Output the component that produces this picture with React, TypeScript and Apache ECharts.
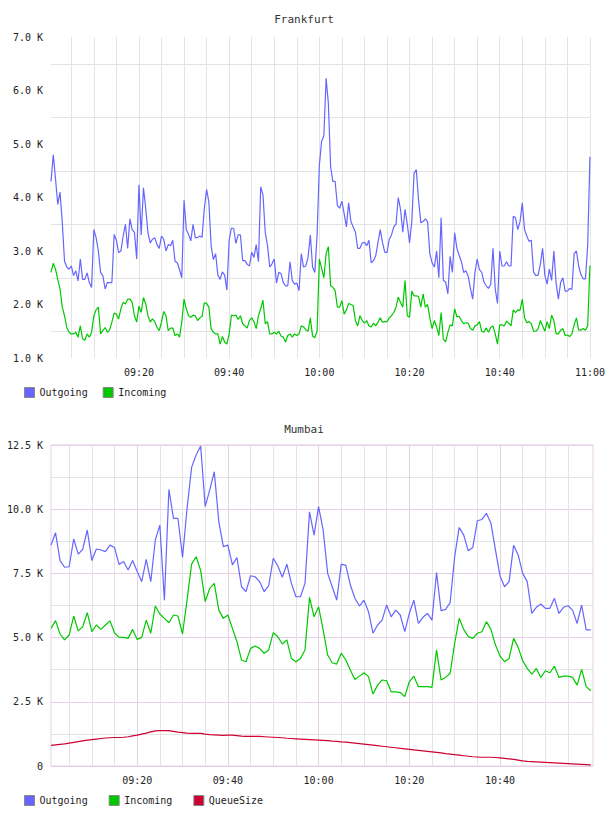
import React, { useEffect, useRef } from 'react';
import * as echarts from 'echarts';

const FONT = 'DejaVu Sans Mono';
const TEXT = '#222';
const GRAY = '#e4e4e4';
const PINK = '#e6cfe6';
const C_OUT = '#6666ff';
const C_IN = '#00c800';
const C_Q = '#cc0033';

// Frankfurt: samples every 30 s starting at 09:00:30 (minutes after 09:00)
const FRA_START_MIN = 0.5;
const FRA_STEP_MIN = 0.5;
// values in thousands
const FRA_OUT = [
  4.30, 4.80, 4.35, 3.87, 4.10, 3.53, 2.81, 2.70, 2.66, 2.72,
  2.54, 2.63, 2.44, 2.85, 2.47, 2.47, 2.59, 2.41, 2.32, 3.40,
  3.25, 3.00, 2.60, 2.54, 2.29, 2.41, 2.41, 2.41, 3.31, 3.20,
  2.97, 3.00, 3.28, 3.50, 3.05, 3.60, 3.40, 3.35, 2.85, 4.24,
  3.30, 4.18, 3.80, 3.34, 3.15, 3.22, 3.25, 3.12, 3.05, 3.28,
  3.22, 3.00, 3.12, 3.10, 3.20, 2.81, 2.78, 2.65, 2.50, 3.95,
  3.40, 3.31, 3.19, 3.50, 3.25, 3.25, 3.28, 3.26, 3.80, 4.15,
  3.92, 3.10, 2.84, 2.95, 2.55, 2.47, 2.61, 2.55, 2.27, 3.20,
  3.43, 3.42, 3.14, 3.30, 3.30, 2.82, 2.82, 2.75, 2.72, 2.98,
  2.88, 3.12, 2.80, 4.20, 4.05, 3.35, 3.10, 2.70, 2.76, 2.85,
  2.40, 2.60, 2.58, 2.41, 2.35, 2.35, 2.80, 2.45, 2.38, 2.40,
  2.26, 2.95, 2.70, 2.72, 2.88, 3.30, 2.70, 2.60, 3.30, 4.60,
  5.05, 5.15, 6.23, 5.76, 4.57, 4.30, 4.30, 3.85, 3.80, 3.93,
  3.70, 3.45, 3.90, 3.55, 3.45, 3.35, 3.05, 3.05, 3.15, 3.16,
  3.10, 3.20, 2.78, 2.82, 2.91, 3.16, 3.40, 3.16, 2.98, 2.97,
  3.22, 3.30, 3.45, 3.50, 4.00, 3.78, 3.35, 3.78, 3.50, 3.15,
  3.55, 4.45, 4.52, 3.95, 3.53, 3.55, 3.60, 3.55, 2.95, 2.78,
  2.70, 3.00, 2.50, 3.62, 2.45, 2.42, 2.20, 2.90, 2.60, 3.34,
  3.05, 2.92, 2.80, 2.60, 2.63, 2.53, 2.30, 2.10, 2.60, 2.85,
  2.65, 2.60, 2.42, 2.35, 2.30, 2.38, 3.05, 2.29, 2.02, 3.00,
  2.72, 2.72, 2.80, 2.72, 2.72, 3.65, 3.62, 3.40, 3.55, 3.90,
  3.40, 3.28, 3.18, 3.20, 2.60, 2.54, 2.55, 2.75, 3.05, 2.55,
  2.38, 2.66, 2.45, 3.00, 2.40, 2.10, 2.41, 2.50, 2.25, 2.25,
  2.30, 2.28, 2.95, 3.00, 2.72, 2.56, 2.48, 2.48, 3.10, 4.76,
];
const FRA_IN = [
  2.60, 2.77, 2.66, 2.47, 2.29, 1.95, 1.79, 1.57, 1.48, 1.45,
  1.45, 1.48, 1.39, 1.60, 1.36, 1.33, 1.45, 1.39, 1.48, 1.79,
  1.90, 1.95, 1.45, 1.51, 1.57, 1.48, 1.53, 1.67, 1.84, 1.82,
  1.73, 1.92, 2.04, 2.01, 2.10, 2.10, 2.04, 1.79, 1.67, 1.97,
  1.85, 2.13, 2.01, 1.79, 1.67, 1.73, 1.68, 1.57, 1.51, 1.67,
  1.87, 1.79, 1.51, 1.56, 1.56, 1.42, 1.45, 1.39, 1.67, 2.10,
  1.92, 1.79, 1.76, 1.80, 1.79, 1.70, 1.75, 1.78, 2.03, 2.02,
  1.95, 1.55, 1.48, 1.45, 1.45, 1.26, 1.40, 1.30, 1.26, 1.45,
  1.80, 1.79, 1.80, 1.72, 1.79, 1.64, 1.60, 1.56, 1.70, 1.75,
  1.68, 1.55, 1.79, 1.92, 2.08, 1.64, 1.68, 1.45, 1.45, 1.48,
  1.45, 1.50, 1.41, 1.39, 1.30, 1.42, 1.45, 1.39, 1.45, 1.42,
  1.45, 1.60, 1.58, 1.53, 1.50, 1.75, 1.41, 1.38, 1.50, 2.85,
  2.68, 2.50, 2.95, 3.08, 2.35, 2.32, 2.26, 1.95, 1.95, 2.07,
  1.82, 1.90, 2.02, 2.00, 1.98, 1.70, 1.60, 1.79, 1.70, 1.65,
  1.70, 1.60, 1.58, 1.65, 1.60, 1.67, 1.75, 1.67, 1.68, 1.68,
  1.75, 1.79, 1.85, 1.95, 2.14, 2.04, 1.95, 2.45, 1.79, 1.76,
  2.25, 2.16, 2.16, 2.15, 1.95, 2.20, 1.95, 2.00, 1.75, 1.55,
  1.70, 1.58, 1.42, 1.85, 1.35, 1.30, 1.48, 1.62, 1.60, 1.92,
  1.77, 1.78, 1.70, 1.64, 1.66, 1.65, 1.55, 1.52, 1.60, 1.62,
  1.68, 1.50, 1.48, 1.56, 1.48, 1.57, 1.60, 1.45, 1.26, 1.62,
  1.62, 1.60, 1.69, 1.65, 1.60, 1.90, 1.85, 1.90, 1.89, 2.10,
  1.75, 1.66, 1.68, 1.64, 1.50, 1.50, 1.54, 1.70, 1.60, 1.50,
  1.68, 1.55, 1.80, 1.70, 1.45, 1.45, 1.52, 1.55, 1.42, 1.43,
  1.40, 1.45, 1.62, 1.75, 1.52, 1.52, 1.55, 1.52, 1.60, 2.73,
];

// Mumbai: samples every minute starting at 09:01
const MUM_START_MIN = 1;
const MUM_STEP_MIN = 1;
const MUM_OUT = [
  8.60, 9.08, 8.00, 7.74, 7.76, 8.84, 8.25, 8.44, 9.19, 8.00,
  8.45, 8.41, 8.35, 8.60, 8.51, 7.85, 7.96, 7.63, 8.00, 7.57,
  7.18, 8.05, 7.18, 8.80, 9.38, 6.46, 10.77, 9.64, 9.64, 8.12,
  10.03, 11.63, 12.11, 12.46, 10.10, 10.75, 11.46, 9.51, 8.54, 8.60,
  7.83, 8.12, 6.98, 6.79, 7.41, 7.37, 7.18, 6.79, 7.02, 8.09,
  7.80, 7.35, 7.86, 7.11, 6.59, 6.59, 7.11, 9.90, 8.99, 10.10,
  9.19, 7.50, 6.98, 6.46, 7.86, 7.81, 7.05, 6.53, 6.23, 6.46,
  6.01, 5.17, 5.49, 5.68, 6.27, 5.81, 6.07, 5.88, 5.23, 5.94,
  6.46, 5.55, 5.79, 5.94, 5.68, 7.53, 6.05, 6.10, 6.36, 8.15,
  9.29, 8.99, 8.38, 8.51, 9.55, 9.60, 9.84, 9.45, 8.41, 7.40,
  6.98, 7.18, 8.60, 8.22, 7.50, 7.18, 5.94, 6.18, 6.31, 6.14,
  6.14, 6.53, 5.94, 6.18, 6.24, 6.07, 5.55, 6.27, 5.30, 5.30,
];
const MUM_IN = [
  5.36, 5.66, 5.14, 4.91, 5.10, 5.84, 5.26, 5.43, 5.97, 5.23,
  5.49, 5.32, 5.49, 5.65, 5.19, 5.01, 5.01, 4.97, 5.32, 4.93,
  5.01, 5.68, 5.17, 6.23, 5.92, 5.75, 5.58, 5.88, 5.84, 5.14,
  6.46, 7.86, 8.15, 7.61, 6.40, 6.92, 7.11, 6.07, 5.75, 5.88,
  5.36, 4.84, 4.13, 4.06, 4.58, 4.67, 4.58, 4.39, 4.52, 5.19,
  5.04, 4.75, 4.91, 4.19, 4.06, 4.19, 4.52, 6.57, 5.81, 6.20,
  5.30, 4.32, 4.02, 3.97, 4.39, 4.13, 3.74, 3.37, 3.50, 3.63,
  3.48, 2.80, 3.15, 3.35, 3.32, 2.89, 2.89, 2.86, 2.70, 3.28,
  3.50, 3.09, 3.09, 3.09, 3.06, 4.52, 3.35, 3.45, 3.61, 4.78,
  5.75, 5.32, 5.04, 4.97, 5.17, 5.23, 5.62, 5.32, 4.71, 4.28,
  4.06, 4.19, 4.97, 4.62, 4.10, 3.80, 3.58, 3.80, 3.45, 3.71,
  3.63, 3.89, 3.45, 3.50, 3.50, 3.45, 3.15, 3.76, 3.09, 2.93,
];
const MUM_QUEUE = [
  0.80, 0.82, 0.84, 0.86, 0.89, 0.92, 0.95, 0.98, 1.01, 1.03,
  1.05, 1.07, 1.09, 1.10, 1.11, 1.11, 1.12, 1.14, 1.17, 1.20,
  1.24, 1.28, 1.33, 1.37, 1.38, 1.38, 1.38, 1.35, 1.32, 1.30,
  1.28, 1.27, 1.27, 1.27, 1.24, 1.22, 1.21, 1.20, 1.19, 1.20,
  1.20, 1.18, 1.16, 1.15, 1.15, 1.15, 1.15, 1.14, 1.13, 1.12,
  1.11, 1.10, 1.08, 1.07, 1.06, 1.05, 1.04, 1.03, 1.02, 1.01,
  1.00, 0.99, 0.97, 0.96, 0.94, 0.93, 0.91, 0.89, 0.87, 0.85,
  0.83, 0.81, 0.79, 0.77, 0.75, 0.73, 0.71, 0.69, 0.67, 0.65,
  0.63, 0.61, 0.59, 0.57, 0.55, 0.53, 0.51, 0.48, 0.46, 0.44,
  0.42, 0.40, 0.38, 0.36, 0.35, 0.34, 0.34, 0.34, 0.33, 0.32,
  0.30, 0.28, 0.26, 0.23, 0.20, 0.18, 0.17, 0.16, 0.15, 0.14,
  0.13, 0.12, 0.11, 0.10, 0.09, 0.08, 0.07, 0.06, 0.05, 0.04,
];

// tick positions (minutes after 09:00)
const FRA_GRID_TICKS = [5, 10, 15, 20, 25, 30, 35, 40, 45, 50, 55, 60, 65, 70, 75, 80, 85, 90, 95, 100, 105, 110, 115, 120];
const FRA_LABEL_TICKS = [20, 40, 60, 80, 100, 120];
const MUM_MAJOR_TICKS = [20, 40, 60, 80, 100];
const MUM_MINOR_TICKS = [5, 10, 15, 25, 30, 35, 45, 50, 55, 65, 70, 75, 85, 90, 95, 105, 110, 115];

const toPairs = (vals: number[], start: number, step: number) => vals.map((v, i) => [start + i * step, v]);

const fmtTime = (m: number) => {
  const h = 9 + Math.floor(m / 60);
  const mm = Math.round(m % 60);
  return String(h).padStart(2, '0') + ':' + String(mm).padStart(2, '0');
};

const labelStyle = { fontFamily: FONT, fontSize: 10, color: TEXT };

export default function App() {
  const ref = useRef<HTMLDivElement>(null);
  useEffect(() => {
    if (!ref.current) return;
    const chart = echarts.init(ref.current, undefined, { renderer: 'svg' });
    const lineSeries = (name: string, color: string, data: number[][], xi: number, yi: number) => ({
      name,
      type: 'line',
      xAxisIndex: xi,
      yAxisIndex: yi,
      data,
      showSymbol: false,
      symbol: 'none',
      itemStyle: { color },
      lineStyle: { color, width: 1.2 },
      emphasis: { disabled: true },
    });
    chart.setOption({
      animation: false,
      backgroundColor: '#fff',
      title: [
        { text: 'Frankfurt', left: 'center', top: 14, padding: 0, textStyle: { fontFamily: FONT, fontSize: 11, fontWeight: 'normal', color: '#333' } },
        { text: 'Mumbai', left: 'center', top: 424, padding: 0, textStyle: { fontFamily: FONT, fontSize: 11, fontWeight: 'normal', color: '#333' } },
      ],
      legend: [
        {
          data: ['Outgoing', 'Incoming'], left: 24, top: 387, padding: 0, icon: 'rect', itemWidth: 10, itemHeight: 10, itemGap: 15,
          itemStyle: { borderColor: '#888', borderWidth: 1 }, textStyle: labelStyle, selectedMode: false,
        },
        {
          data: ['Outgoing', 'Incoming', 'QueueSize'], left: 24, top: 795, padding: 0, icon: 'rect', itemWidth: 10, itemHeight: 10, itemGap: 21,
          itemStyle: { borderColor: '#888', borderWidth: 1 }, textStyle: labelStyle, selectedMode: false,
        },
      ],
      grid: [
        { left: 51, top: 37, width: 541, height: 321 },
        { left: 51, top: 445, width: 542, height: 321, show: true, borderColor: PINK, borderWidth: 1, backgroundColor: 'transparent' },
      ],
      xAxis: [
        {
          gridIndex: 0, type: 'value', min: FRA_START_MIN, max: 120,
          axisLine: { show: false }, axisTick: { show: false, customValues: FRA_GRID_TICKS },
          axisLabel: { customValues: FRA_LABEL_TICKS, formatter: fmtTime, margin: 9, ...labelStyle },
          splitLine: { show: true, lineStyle: { color: GRAY, width: 1 } },
        },
        {
          gridIndex: 1, type: 'value', min: MUM_START_MIN, max: 120.5, position: 'bottom',
          axisLine: { show: false }, axisTick: { show: false, customValues: MUM_MAJOR_TICKS },
          axisLabel: { customValues: MUM_MAJOR_TICKS, formatter: fmtTime, margin: 9, ...labelStyle },
          splitLine: { show: true, lineStyle: { color: PINK, width: 1 } },
        },
        {
          gridIndex: 1, type: 'value', min: MUM_START_MIN, max: 120.5, position: 'top',
          axisLine: { show: false }, axisTick: { show: false, customValues: MUM_MINOR_TICKS },
          axisLabel: { show: false },
          splitLine: { show: true, lineStyle: { color: GRAY, width: 1 } },
        },
      ],
      yAxis: [
        {
          gridIndex: 0, type: 'value', min: 1, max: 7, interval: 1,
          axisLine: { show: false }, axisTick: { show: false },
          splitLine: { show: false },
          minorTick: { show: false, splitNumber: 2 },
          minorSplitLine: { show: true, lineStyle: { color: GRAY, width: 1 } },
          axisLabel: { formatter: (v: number) => v.toFixed(1) + ' K', margin: 8, ...labelStyle },
        },
        {
          gridIndex: 1, type: 'value', min: 0, max: 12.5, interval: 2.5,
          axisLine: { show: false }, axisTick: { show: false },
          splitLine: { show: true, lineStyle: { color: PINK, width: 1 } },
          minorTick: { show: false, splitNumber: 2 },
          minorSplitLine: { show: true, lineStyle: { color: GRAY, width: 1 } },
          axisLabel: { formatter: (v: number) => (v === 0 ? '0' : v.toFixed(1) + ' K'), margin: 8, ...labelStyle },
        },
      ],
      series: [
        lineSeries('Outgoing', C_OUT, toPairs(FRA_OUT, FRA_START_MIN, FRA_STEP_MIN), 0, 0),
        lineSeries('Incoming', C_IN, toPairs(FRA_IN, FRA_START_MIN, FRA_STEP_MIN), 0, 0),
        lineSeries('Outgoing', C_OUT, toPairs(MUM_OUT, MUM_START_MIN, MUM_STEP_MIN), 1, 1),
        lineSeries('Incoming', C_IN, toPairs(MUM_IN, MUM_START_MIN, MUM_STEP_MIN), 1, 1),
        lineSeries('QueueSize', C_Q, toPairs(MUM_QUEUE, MUM_START_MIN, MUM_STEP_MIN), 1, 1),
      ],
    });
    return () => chart.dispose();
  }, []);
  return (
    <div
      ref={ref}
      style={{ position: 'fixed', left: 0, top: 0, width: 608, height: 816, background: '#fff' }}
    />
  );
}
